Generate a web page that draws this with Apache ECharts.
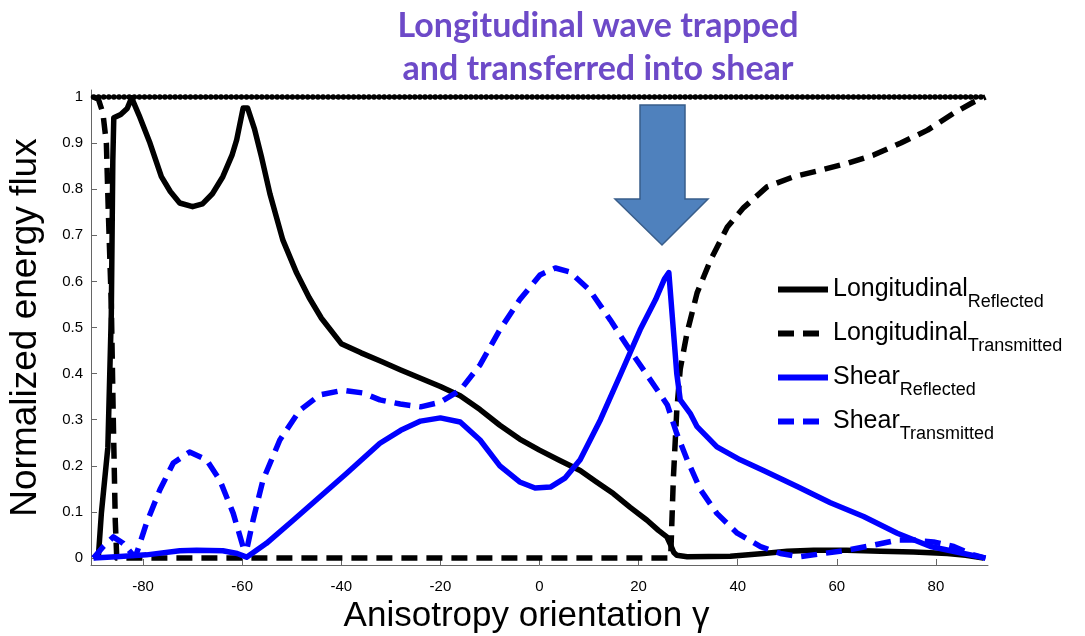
<!DOCTYPE html>
<html>
<head>
<meta charset="utf-8">
<title>Normalized energy flux vs anisotropy orientation</title>
<script src="https://cdn.jsdelivr.net/npm/echarts@6/dist/echarts.min.js"></script>
<style>
  html, body { margin: 0; padding: 0; background: #fff; }
  #chart { width: 1085px; height: 636px; }
</style>
</head>
<body>
<div id="chart"></div>
<script>
// Anisotropy orientation (degrees) and normalized energy flux per wave type
const lrX = [-90, -89, -88.4, -87.1, -86.4, -86.1, -85.9, -84.5, -83.2, -82.3, -80.8, -78.6, -76.3, -74.5, -72.6, -70, -68, -66, -63.9, -62, -61.1, -59.8, -58.9, -57.5, -56.1, -54.4, -51.8, -49, -46.5, -44, -40, -36, -32, -28, -24, -20, -16, -12, -8, -4, 0, 4, 8.2, 11.5, 14.9, 18.3, 21.7, 24, 25.7, 26.4, 27.1, 27.7, 29.8, 38.5, 45.2, 50, 55.3, 62, 68.8, 75.5, 82.3, 86, 89.6];
const lrY = [0, 0.005, 0.098, 0.24, 0.53, 0.86, 0.955, 0.962, 0.975, 0.998, 0.96, 0.90, 0.827, 0.795, 0.77, 0.762, 0.768, 0.79, 0.827, 0.875, 0.907, 0.976, 0.976, 0.93, 0.87, 0.79, 0.69, 0.618, 0.565, 0.52, 0.465, 0.445, 0.427, 0.408, 0.39, 0.372, 0.352, 0.322, 0.288, 0.258, 0.234, 0.212, 0.19, 0.165, 0.14, 0.11, 0.082, 0.06, 0.046, 0.03, 0.012, 0.006, 0.003, 0.004, 0.01, 0.015, 0.017, 0.017, 0.015, 0.013, 0.01, 0.006, 0];

const ltX = [-90, -89, -88.1, -87.4, -87, -86.4, -86, -85.6, -85.3, -80, -60, -40, -20, 0, 20, 26.2, 26.5, 27, 27.7, 28.4, 29.8, 31.8, 34.5, 37.9, 41.2, 45.9, 51.3, 56.7, 62.1, 67.4, 72.9, 78.3, 83.6, 87.6, 90];
const ltY = [1, 0.995, 0.965, 0.90, 0.75, 0.55, 0.3, 0.08, 0, 0, 0, 0, 0, 0, 0, 0, 0.01, 0.17, 0.32, 0.41, 0.49, 0.575, 0.646, 0.718, 0.76, 0.805, 0.827, 0.841, 0.856, 0.874, 0.90, 0.928, 0.965, 0.989, 1.0];

const srX = [-90, -85.4, -79.3, -72.6, -69.2, -63.9, -61, -59.1, -55.1, -49.7, -44.3, -38.9, -32.2, -28, -24, -20, -16, -12, -8, -4, -0.9, 2.2, 5.2, 8.2, 12.3, 16.3, 20.3, 23.4, 25.2, 26.1, 27.7, 28.4, 30.4, 31.8, 35.8, 40.5, 45.2, 52, 58.7, 65.4, 72.2, 78.9, 85.6, 90];
const srY = [0, 0.003, 0.007, 0.016, 0.017, 0.016, 0.01, 0.002, 0.032, 0.082, 0.133, 0.184, 0.249, 0.277, 0.297, 0.304, 0.295, 0.256, 0.2, 0.165, 0.152, 0.154, 0.174, 0.213, 0.30, 0.397, 0.495, 0.56, 0.605, 0.619, 0.40, 0.343, 0.314, 0.285, 0.241, 0.213, 0.19, 0.155, 0.12, 0.09, 0.054, 0.025, 0.01, 0];

const stX = [-90, -88, -86, -84, -82, -81.3, -79.3, -76.6, -73.9, -70.6, -67.2, -64.5, -61.8, -59.8, -59.1, -57.8, -55.8, -52.4, -48.4, -44.3, -39.6, -35.6, -32.2, -28.1, -24, -20, -16, -12, -8, -4, 0.1, 3.2, 6.2, 10.2, 14.3, 18.3, 22.4, 25.8, 27.7, 29.8, 32.5, 35.8, 39.9, 44.6, 48.6, 52.6, 57.3, 62.1, 67.4, 72.2, 75.5, 79.5, 83.6, 87.6, 90];
const stY = [0, 0.025, 0.046, 0.032, 0.006, 0.01, 0.076, 0.148, 0.206, 0.23, 0.213, 0.169, 0.097, 0.024, 0.017, 0.082, 0.169, 0.256, 0.32, 0.354, 0.364, 0.358, 0.343, 0.334, 0.328, 0.338, 0.364, 0.419, 0.495, 0.56, 0.614, 0.629, 0.62, 0.58, 0.516, 0.45, 0.386, 0.332, 0.27, 0.213, 0.148, 0.097, 0.054, 0.025, 0.01, 0.003, 0.01, 0.017, 0.028, 0.039, 0.039, 0.035, 0.025, 0.007, 0];

// Sum of all four fluxes (energy conservation)
const totalX = [-90, 90];
const totalY = [1, 1];

const xTicks = [-80, -60, -40, -20, 0, 20, 40, 60, 80];
const yTicks = [0, 0.1, 0.2, 0.3, 0.4, 0.5, 0.6, 0.7, 0.8, 0.9, 1];

const seriesNames = ['LongitudinalReflected', 'LongitudinalTransmitted', 'ShearReflected', 'ShearTransmitted'];
const legendMain = ['Longitudinal', 'Longitudinal', 'Shear', 'Shear'];
const legendSub = ['Reflected', 'Transmitted', 'Reflected', 'Transmitted'];

const titleLines = ['Longitudinal wave trapped', 'and transferred into shear'];

const zip = (xs, ys) => xs.map((x, i) => [x, ys[i]]);

const FONT = '"Liberation Sans", Arial, sans-serif';
const DASH = [16, 9];

const chart = echarts.init(document.getElementById('chart'), null, { renderer: 'canvas' });

const lineSeries = (name, xs, ys, color, dashed, z) => ({
  name: name,
  type: 'line',
  data: zip(xs, ys),
  symbol: 'none',
  smooth: false,
  z: z,
  lineStyle: { color: color, width: 5.5, type: dashed ? DASH : 'solid', cap: 'butt', join: 'round' },
  itemStyle: { color: color }
});

chart.setOption({
  animation: false,
  backgroundColor: '#ffffff',
  title: {
    text: titleLines.join('\n'),
    left: 593,
    top: 0,
    textAlign: 'center',
    textStyle: {
      fontFamily: 'Lato, "Open Sans", sans-serif',
      fontWeight: 'bold',
      fontSize: 34,
      lineHeight: 43,
      color: '#6D4AC8'
    }
  },
  grid: { left: 91, right: 97, top: 90, bottom: 71, containLabel: false, outerBoundsMode: 'none' },
  legend: {
    orient: 'vertical',
    left: 775,
    top: 277,
    padding: 0,
    itemWidth: 50,
    itemHeight: 14,
    itemGap: 9.5,
    data: seriesNames,
    itemStyle: { opacity: 0 },
    lineStyle: { width: 6 },
    formatter: function (name) {
      const i = seriesNames.indexOf(name);
      return '{m|' + legendMain[i] + '}{s|' + legendSub[i] + '}';
    },
    textStyle: {
      rich: {
        m: { fontFamily: FONT, fontSize: 25, color: '#000', verticalAlign: 'middle', lineHeight: 44 },
        s: { fontFamily: FONT, fontSize: 18, color: '#000', verticalAlign: 'bottom', lineHeight: 44 }
      }
    }
  },
  xAxis: {
    type: 'value',
    min: -90.5,
    max: 90.5,
    name: 'Anisotropy orientation \u03B3',
    nameLocation: 'middle',
    nameGap: 25,
    nameTextStyle: { fontFamily: FONT, fontSize: 35, color: '#000', padding: [0, 26, 0, 0] },
    axisLine: { onZero: false, lineStyle: { color: '#666', width: 1 } },
    axisTick: { inside: true, length: 6, lineStyle: { color: '#666' }, customValues: xTicks },
    axisLabel: { fontFamily: FONT, fontSize: 15, color: '#000', margin: 14, customValues: xTicks },
    splitLine: { show: false }
  },
  yAxis: {
    type: 'value',
    min: -0.015,
    max: 1.015,
    name: 'Normalized energy flux',
    nameLocation: 'middle',
    nameGap: 47,
    nameTextStyle: { fontFamily: FONT, fontSize: 37, color: '#000' },
    axisLine: { show: true, onZero: false, lineStyle: { color: '#666', width: 1 } },
    axisTick: { show: true, inside: true, length: 6, lineStyle: { color: '#666' }, customValues: yTicks },
    axisLabel: { fontFamily: FONT, fontSize: 15, color: '#000', margin: 8, customValues: yTicks },
    splitLine: { show: false }
  },
  series: [
    lineSeries(seriesNames[0], lrX, lrY, '#000000', false, 2),
    lineSeries(seriesNames[1], ltX, ltY, '#000000', true, 3),
    lineSeries(seriesNames[2], srX, srY, '#0000FF', false, 4),
    lineSeries(seriesNames[3], stX, stY, '#0000FF', true, 5),
    {
      name: 'Total',
      type: 'line',
      data: zip(totalX, totalY),
      symbol: 'none',
      z: 6,
      lineStyle: { color: '#000', width: 5.5, type: [0.1, 5], cap: 'round' }
    }
  ],
  graphic: [
    {
      type: 'polygon',
      z: 10,
      shape: {
        points: [[640, 105], [685, 105], [685, 199], [708, 199], [662, 245], [615, 199], [640, 199]]
      },
      style: { fill: '#4F81BD', stroke: '#385D8A', lineWidth: 1.5 }
    }
  ]
});
</script>
</body>
</html>
